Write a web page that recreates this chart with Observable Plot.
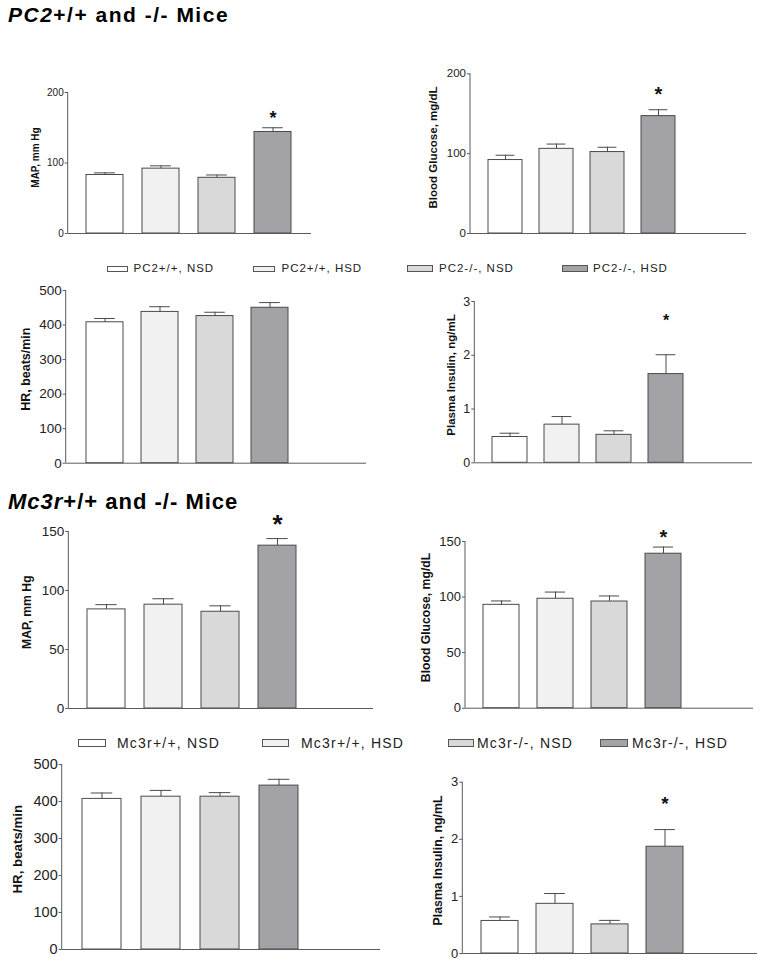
<!DOCTYPE html>
<html><head><meta charset="utf-8">
<script src="https://cdn.jsdelivr.net/npm/d3@7"></script>
<script src="https://cdn.jsdelivr.net/npm/@observablehq/plot@0.6"></script>
<style>
body{margin:0;background:#fff;font-family:"Liberation Sans",Arial,Helvetica,sans-serif;}
#root{position:relative;width:764px;height:964px;overflow:hidden;background:#fff;}
.title{position:absolute;left:8px;font-weight:bold;white-space:nowrap;line-height:1;color:#000;}
.panel{position:absolute;}
.box{position:absolute;border:1px solid #555;box-sizing:border-box;}
.ltxt{position:absolute;white-space:nowrap;line-height:1;color:#222;}
</style></head><body><div id="root"></div>
<script>
// ---- data ----
const groups = ["WT NSD", "WT HSD", "KO NSD", "KO HSD"];
const fills = ["#ffffff", "#f1f1f1", "#d9d9d9", "#a3a3a7"];
const pc2Legend = ["PC2+/+, NSD", "PC2+/+, HSD", "PC2-/-, NSD", "PC2-/-, HSD"];
const mc3rLegend = ["Mc3r+/+, NSD", "Mc3r+/+, HSD", "Mc3r-/-, NSD", "Mc3r-/-, HSD"];

const pc2MAP = [83, 92, 79, 144];       const pc2MAPErr = [3, 4, 4, 6];
const pc2Glu = [92, 106, 102, 147];     const pc2GluErr = [6, 6, 6, 8];
const pc2HR = [408, 438, 426, 450];     const pc2HRErr = [11, 15, 11, 15];
const pc2Ins = [0.48, 0.71, 0.52, 1.65]; const pc2InsErr = [0.07, 0.15, 0.075, 0.36];
const mc3rMAP = [84, 88, 82, 138];      const mc3rMAPErr = [4, 5, 5, 6];
const mc3rGlu = [93, 98.5, 96, 139];    const mc3rGluErr = [3.5, 6, 5, 6];
const mc3rHR = [407, 413, 413, 443];    const mc3rHRErr = [16, 17, 11, 17];
const mc3rIns = [0.57, 0.87, 0.51, 1.87]; const mc3rInsErr = [0.07, 0.18, 0.07, 0.30];

// significance marker positions (value units)
const pc2Stars = {MAP: 170, Glu: 180, HR: null, Ins: 2.71};
const mc3rStars = {MAP: 161, Glu: 158, HR: null, Ins: 2.70};

const ticksMAP1 = [0, 100, 200], ticksGlu1 = [0, 100, 200];
const ticksHR = [0, 100, 200, 300, 400, 500];
const ticksIns = [0, 1, 2, 3];
const ticksMAP2 = [0, 50, 100, 150], ticksGlu2 = [0, 50, 100, 150];

// ---- layout ----
const barStroke = "#4a4a4a", axisColor = "#5a5a5a";
const root = document.getElementById("root");

function addTitle(html, top, size, ls) {
  const d = document.createElement("div");
  d.className = "title";
  d.style.top = top + "px"; d.style.fontSize = size + "px"; d.style.letterSpacing = ls + "px";
  d.innerHTML = html;
  root.appendChild(d);
}

function addLegend(labels, items, cy, fs, ls) {
  labels.forEach((lab, i) => {
    const it = items[i];
    const b = document.createElement("div");
    b.className = "box";
    b.style.left = it.x + "px"; b.style.width = it.w + "px";
    b.style.top = (cy - it.h / 2) + "px"; b.style.height = it.h + "px";
    b.style.background = fills[i];
    root.appendChild(b);
    const t = document.createElement("div");
    t.className = "ltxt";
    t.textContent = lab;
    t.style.left = it.tx + "px"; t.style.fontSize = fs + "px";
    t.style.letterSpacing = ls + "px";
    t.style.top = (cy - 0.489 * fs) + "px";
    root.appendChild(t);
  });
}

// vertical y-axis line drawn from the y scale's extent at the frame's left edge
function yAxisLine(ymax) {
  return (index, scales, values, dimensions) => {
    const x = dimensions.marginLeft;
    const line = d3.create("svg:line")
      .attr("x1", x).attr("x2", x)
      .attr("y1", scales.y(0)).attr("y2", scales.y(ymax))
      .attr("stroke", axisColor).attr("stroke-width", 1);
    return line.node();
  };
}

function panel(L, vals, errs, star) {
  const data = groups.map((g, i) => ({g, v: vals[i], e: errs[i]}));
  const gap = L.step - L.bw;
  const pi = gap / L.step;
  const r0 = L.barStart - gap / 2 - L.left;
  const marks = [
    Plot.barY(data, {x: "g", y: "v", fill: "g", stroke: barStroke, strokeWidth: 1}),
    Plot.ruleX(data, {x: "g", y1: "v", y2: d => d.v + d.e, stroke: barStroke, strokeWidth: 1}),
    Plot.tickY(data, {x: "g", y: d => d.v + d.e, stroke: barStroke, strokeWidth: 1,
      insetLeft: L.bw * 0.22, insetRight: L.bw * 0.22}),
    Plot.ruleY([0], {stroke: axisColor, strokeWidth: 1}),
    yAxisLine(L.ymax),
    Plot.axisY({ticks: L.ticks, tickSize: 3, tickPadding: 1.5, fontSize: L.tickFont,
      tickFormat: d => String(d), label: null, stroke: axisColor, fill: "#222"}),
    Plot.text([L.label], {frameAnchor: "left", textAnchor: "middle", lineAnchor: "middle", rotate: -90,
      dx: L.labelX - L.axisX, dy: L.labelY - (L.yTop + L.y0) / 2,
      fontSize: L.labelFont, fontWeight: "bold", fill: "#111"})
  ];
  if (star != null) {
    marks.push(Plot.text([{g: groups[3], y: star, s: "*"}], {x: "g", y: "y", text: "s",
      fontSize: L.starSize, fontWeight: "bold", dy: 0.23 * L.starSize, fill: "#111"}));
  }
  const svg = Plot.plot({
    width: L.width, height: L.height,
    marginLeft: L.axisX - L.left,
    marginRight: L.left + L.width - L.axisEnd,
    marginTop: L.yTop - L.top,
    marginBottom: L.top + L.height - L.y0,
    x: {domain: groups, range: [r0, r0 + 4 * L.step], paddingInner: pi, paddingOuter: pi / 2, axis: null},
    y: {domain: [0, L.ymax], axis: null},
    color: {domain: groups, range: fills},
    style: {background: "transparent", overflow: "visible",
      fontFamily: '"Liberation Sans", Arial, Helvetica, sans-serif'},
    marks
  });
  const d = document.createElement("div");
  d.className = "panel";
  d.style.left = L.left + "px"; d.style.top = L.top + "px";
  d.style.width = L.width + "px"; d.style.height = L.height + "px";
  d.appendChild(svg);
  root.appendChild(d);
}

addTitle("<i>PC2</i>+/+ and -/- Mice", 4, 21, 1.5);
addTitle("<i>Mc3r</i>+/+ and -/- Mice", 491.4, 22, 1);

panel({left: 0, width: 382, top: 40, height: 210, axisX: 67.7, axisEnd: 311, y0: 233, yTop: 92,
  barStart: 86, bw: 37, step: 56, ymax: 200, ticks: ticksMAP1, tickFont: 10,
  label: "MAP, mm Hg", labelFont: 10, labelX: 35, labelY: 157, starSize: 18}, pc2MAP, pc2MAPErr, pc2Stars.MAP);
panel({left: 382, width: 382, top: 40, height: 210, axisX: 470, axisEnd: 746, y0: 233, yTop: 73.3,
  barStart: 486.7, bw: 34.5, step: 51.7, ymax: 200, ticks: ticksGlu1, tickFont: 11.5,
  label: "Blood Glucose, mg/dL", labelFont: 11.5, labelX: 432.5, labelY: 147, starSize: 20}, pc2Glu, pc2GluErr, pc2Stars.Glu);
panel({left: 0, width: 382, top: 280, height: 200, axisX: 65.7, axisEnd: 366, y0: 462.7, yTop: 290,
  barStart: 84.3, bw: 37.3, step: 55.8, ymax: 500, ticks: ticksHR, tickFont: 13.5,
  label: "HR, beats/min", labelFont: 12.5, labelX: 26, labelY: 368.7, starSize: 18}, pc2HR, pc2HRErr, pc2Stars.HR);
panel({left: 382, width: 382, top: 280, height: 200, axisX: 474.3, axisEnd: 752, y0: 462.3, yTop: 301,
  barStart: 491, bw: 34.7, step: 52.3, ymax: 3, ticks: ticksIns, tickFont: 12.5,
  label: "Plasma Insulin, ng/mL", labelFont: 11.5, labelX: 450.5, labelY: 374.5, starSize: 16}, pc2Ins, pc2InsErr, pc2Stars.Ins);
panel({left: 0, width: 382, top: 515, height: 210, axisX: 68.3, axisEnd: 373, y0: 708, yTop: 531,
  barStart: 87.3, bw: 38, step: 57, ymax: 150, ticks: ticksMAP2, tickFont: 13.5,
  label: "MAP, mm Hg", labelFont: 12.2, labelX: 27, labelY: 611.7, starSize: 26}, mc3rMAP, mc3rMAPErr, mc3rStars.MAP);
panel({left: 382, width: 382, top: 515, height: 210, axisX: 465, axisEnd: 753, y0: 707.7, yTop: 541,
  barStart: 483, bw: 36, step: 54, ymax: 150, ticks: ticksGlu2, tickFont: 13,
  label: "Blood Glucose, mg/dL", labelFont: 12.2, labelX: 426, labelY: 617, starSize: 20}, mc3rGlu, mc3rGluErr, mc3rStars.Glu);
panel({left: 0, width: 382, top: 755, height: 209, axisX: 61.7, axisEnd: 380, y0: 949, yTop: 764,
  barStart: 80.7, bw: 39.7, step: 59.7, ymax: 500, ticks: ticksHR, tickFont: 14.5,
  label: "HR, beats/min", labelFont: 13.3, labelX: 17.5, labelY: 848.7, starSize: 18}, mc3rHR, mc3rHRErr, mc3rStars.HR);
panel({left: 382, width: 382, top: 755, height: 209, axisX: 462.3, axisEnd: 757, y0: 953, yTop: 781.7,
  barStart: 480, bw: 37, step: 55.5, ymax: 3, ticks: ticksIns, tickFont: 13,
  label: "Plasma Insulin, ng/mL", labelFont: 12.3, labelX: 437.5, labelY: 860, starSize: 19}, mc3rIns, mc3rInsErr, mc3rStars.Ins);

addLegend(pc2Legend, [
  {x: 107, w: 21, h: 6, tx: 133.5}, {x: 253, w: 22, h: 6, tx: 281.5},
  {x: 407, w: 26, h: 7, tx: 439}, {x: 562, w: 26, h: 7, tx: 593}], 268.5, 11.5, 1);
addLegend(mc3rLegend, [
  {x: 78, w: 28, h: 8, tx: 117}, {x: 262, w: 27, h: 8, tx: 301},
  {x: 448, w: 26, h: 8, tx: 477}, {x: 600, w: 28, h: 8, tx: 632}], 743.3, 14, 1.2);
</script></body></html>
